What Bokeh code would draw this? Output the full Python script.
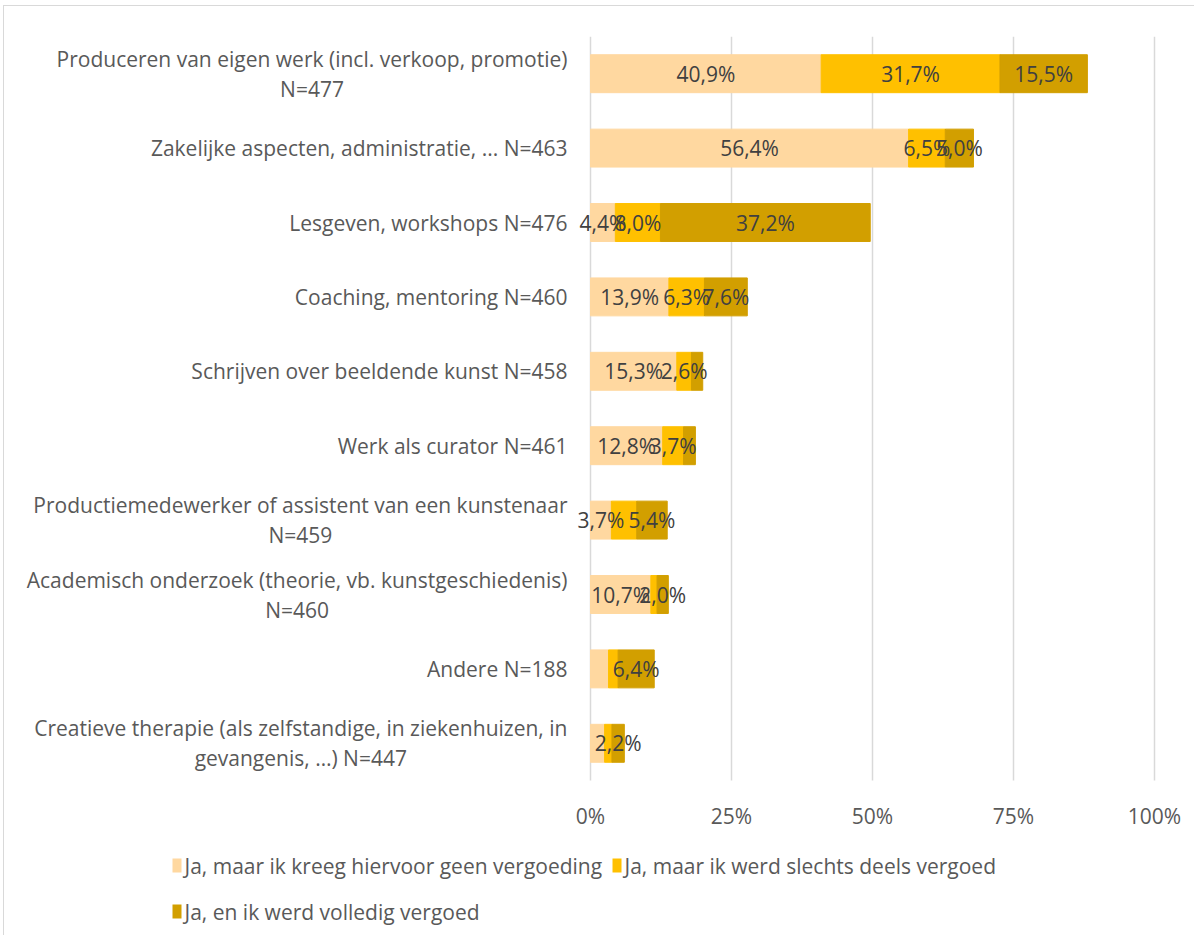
from bokeh.plotting import figure
from bokeh.models import ColumnDataSource, Range1d
from bokeh.core.properties import value
from bokeh.embed import file_html
from bokeh.resources import INLINE

# ---------------- data ----------------
categories = [
    "Produceren van eigen werk (incl. verkoop, promotie)\nN=477",
    "Zakelijke aspecten, administratie, ... N=463",
    "Lesgeven, workshops N=476",
    "Coaching, mentoring N=460",
    "Schrijven over beeldende kunst N=458",
    "Werk als curator N=461",
    "Productiemedewerker of assistent van een kunstenaar\nN=459",
    "Academisch onderzoek (theorie, vb. kunstgeschiedenis)\nN=460",
    "Andere N=188",
    "Creatieve therapie (als zelfstandige, in ziekenhuizen, in\ngevangenis, …) N=447",
]
no_pay = [40.9, 56.4, 4.4, 13.9, 15.3, 12.8, 3.7, 10.7, 3.2, 2.5]
partly_paid = [31.7, 6.5, 8.0, 6.3, 2.6, 3.7, 4.5, 1.1, 1.7, 1.3]
fully_paid = [15.5, 5.0, 37.2, 7.6, 2.0, 2.1, 5.4, 2.0, 6.4, 2.2]
# which data labels are visible in the original
show_no_pay = [1, 1, 1, 1, 1, 1, 1, 1, 0, 0]
show_partly = [1, 1, 1, 1, 1, 1, 0, 0, 0, 0]
show_fully = [1, 1, 1, 1, 0, 0, 1, 1, 1, 1]
series_names = [
    "Ja, maar ik kreeg hiervoor geen vergoeding",
    "Ja, maar ik werd slechts deels vergoed",
    "Ja, en ik werd volledig vergoed",
]
tick_values = [0, 25, 50, 75, 100]
tick_labels = ["0%", "25%", "50%", "75%", "100%"]

# ---------------- style / layout ----------------
COLORS = ["#FFD8A0", "#FFC000", "#D29F00"]
FONT = "Open Sans"
FS = 21
TEXT_COL = "#595959"
LABEL_COL = "#404040"
GRID_COL = "#D9D9D9"
PLOT_W = 1172
PX_PER_UNIT = 5.64          # horizontal px per percentage point
PX_PER_ROW = 74.4           # vertical px per category
ZERO_PX = 572               # distance of 0% from frame left
EXTRA_PX = 155              # room below the bars for tick labels and legend
LABEL_GAP_PX = 23
TICK_LABEL_DY = 35
LEGEND_ROW_DY = [85, 131]
LEGEND_LEFT_PX = -418       # legend start relative to 0%
SWATCH_W, SWATCH_H = 9, 14
SWATCH_GAP, ITEM_GAP = 3, 10

# approximate Open Sans advance widths (per 1000 em)
W = {" ": 260, "(": 296, ")": 296, ",": 245, ".": 266, "=": 572, "%": 822, "…": 798,
     "A": 633, "C": 631, "P": 603, "N": 763, "J": 270,
     "a": 556, "b": 613, "c": 476, "d": 613, "e": 561, "f": 339, "g": 548, "h": 614,
     "i": 253, "j": 253, "k": 524, "l": 253, "m": 930, "n": 614, "o": 601, "p": 613,
     "q": 613, "r": 408, "s": 477, "t": 353, "u": 614, "v": 504, "w": 778, "x": 524,
     "y": 504, "z": 477}
for d in "0123456789":
    W[d] = 572


def text_px(s):
    return sum(W.get(ch, 560) for ch in s) * FS / 1000.0


n = len(categories)
row_y = [n - 1 - i + 0.5 for i in range(n)]
keys = ["no_pay", "partly", "fully"]
source = ColumnDataSource(dict(y=row_y, no_pay=no_pay, partly=partly_paid, fully=fully_paid))

p = figure(
    frame_width=PLOT_W, frame_height=int(n * PX_PER_ROW + EXTRA_PX),
    x_range=Range1d(-ZERO_PX / PX_PER_UNIT, (PLOT_W - ZERO_PX) / PX_PER_UNIT),
    y_range=Range1d(-EXTRA_PX / PX_PER_ROW, n),
    output_backend="svg", toolbar_location=None,
    x_axis_location=None, y_axis_location=None,
    min_border_left=14, min_border_right=4, min_border_top=30, min_border_bottom=0,
)
p.margin = (5, 0, 0, 3)
p.styles = {"border-top": "1px solid #D9D9D9", "border-left": "1px solid #D9D9D9"}
p.outline_line_color = None
p.xgrid.visible = False
p.ygrid.visible = False

# vertical gridlines
p.segment(x0=tick_values, y0=[0] * len(tick_values), x1=tick_values, y1=[n] * len(tick_values),
          line_color=GRID_COL, line_width=1.5)

# bars
renderers = p.hbar_stack(keys, y="y", height=0.51, color=COLORS, source=source)

# tick labels
p.text(x=tick_values, y=[0] * len(tick_values), text=tick_labels, y_offset=TICK_LABEL_DY,
       text_align="center", text_baseline="middle", text_font=value(FONT),
       text_font_size=f"{FS}px", text_color=TEXT_COL)

# data labels
lx, ly, lt = [], [], []
for i in range(n):
    vals = [no_pay[i], partly_paid[i], fully_paid[i]]
    shows = [show_no_pay[i], show_partly[i], show_fully[i]]
    left = 0.0
    for v, s in zip(vals, shows):
        if s:
            lx.append(left + v / 2.0)
            ly.append(row_y[i])
            lt.append(f"{v:.1f}".replace(".", ",") + "%")
        left += v
p.text(x="x", y="y", text="t", source=ColumnDataSource(dict(x=lx, y=ly, t=lt)),
       text_align="center", text_baseline="middle", text_font=value(FONT),
       text_font_size=f"{FS}px", text_color=LABEL_COL)

# category labels
x_right = -LABEL_GAP_PX / PX_PER_UNIT
rx, ry, rt = [], [], []
cx, cy, ct, co = [], [], [], []
for i, cat in enumerate(categories):
    lines = cat.split("\n")
    if len(lines) == 1:
        rx.append(x_right); ry.append(row_y[i]); rt.append(lines[0])
    else:
        xc = x_right - text_px(lines[0]) / 2.0 / PX_PER_UNIT
        for j, ln in enumerate(lines):
            cx.append(xc); cy.append(row_y[i]); ct.append(ln); co.append(-15 if j == 0 else 15)
p.text(x="x", y="y", text="t", source=ColumnDataSource(dict(x=rx, y=ry, t=rt)),
       text_align="right", text_baseline="middle", text_font=value(FONT),
       text_font_size=f"{FS}px", text_color=TEXT_COL)
p.text(x="x", y="y", text="t", y_offset="o", source=ColumnDataSource(dict(x=cx, y=cy, t=ct, o=co)),
       text_align="center", text_baseline="middle", text_font=value(FONT),
       text_font_size=f"{FS}px", text_color=TEXT_COL)

# legend (drawn as glyphs: two items on the first row, one on the second)
item_rows = [0, 0, 1]
sw_x, sw_y, tx, ty = [], [], [], []
cursor = {0: LEGEND_LEFT_PX, 1: LEGEND_LEFT_PX}
for name, row in zip(series_names, item_rows):
    left_px = cursor[row]
    yy = -LEGEND_ROW_DY[row] / PX_PER_ROW
    sw_x.append((left_px + SWATCH_W / 2.0) / PX_PER_UNIT)
    sw_y.append(yy)
    tx.append((left_px + SWATCH_W + SWATCH_GAP) / PX_PER_UNIT)
    ty.append(yy)
    cursor[row] = left_px + SWATCH_W + SWATCH_GAP + text_px(name) + ITEM_GAP
p.rect(x=sw_x, y=sw_y, width=SWATCH_W / PX_PER_UNIT, height=SWATCH_H / PX_PER_ROW,
       fill_color=COLORS, line_color=None)
p.text(x=tx, y=ty, text=series_names, text_align="left", text_baseline="middle",
       text_font=value(FONT), text_font_size=f"{FS}px", text_color=TEXT_COL)

open("out.html", "w").write(file_html(p, INLINE))
